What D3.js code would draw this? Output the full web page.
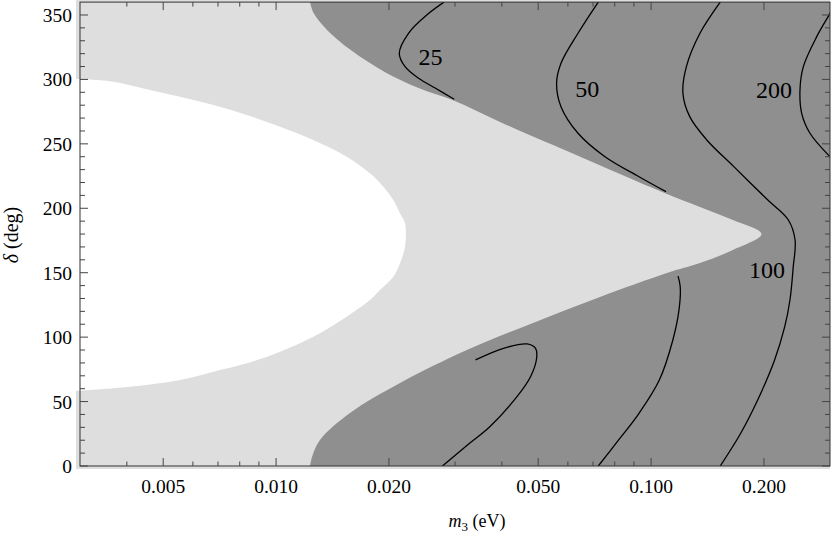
<!DOCTYPE html>
<html><head><meta charset="utf-8">
<script src="https://cdn.jsdelivr.net/npm/d3@7"></script>
<style>
html,body{margin:0;padding:0;background:#fff;}
</style></head><body>
<svg id="chart" width="832" height="537" font-family="'Liberation Serif', 'Times New Roman', Times, serif"></svg>
<script>
// ---- axes ----
const xDomain = [0.003, 0.3];
const yDomain = [0, 360];
const xMajorTicks = [0.005, 0.01, 0.02, 0.05, 0.1, 0.2];
const xMajorLabels = ["0.005", "0.010", "0.020", "0.050", "0.100", "0.200"];
const xMinorTicks = [0.004, 0.006, 0.007, 0.008, 0.009, 0.03, 0.04, 0.06, 0.07, 0.08, 0.09];
const yMajorTicks = [0, 50, 100, 150, 200, 250, 300, 350];
const yMajorLabels = ["0", "50", "100", "150", "200", "250", "300", "350"];
const yMinorTicks = [10,20,30,40,60,70,80,90,110,120,130,140,160,170,180,190,210,220,230,240,260,270,280,290,310,320,330,340];

// ---- white (allowed) region boundary: delta ascending ----
const whiteEdgeDelta = [58.4, 60.3, 62.9, 66.7, 73.2, 79.7, 88.7, 100.3, 115.9, 128.8, 136.6, 146.9, 157.3, 170.2, 188.3, 196.1, 206.4, 216.7, 227.1, 240.0, 253.0, 263.3, 272.4, 280.2, 286.6, 292.3, 298.2, 300.3];
const whiteEdgeM     = [0.003, 0.00368, 0.00452, 0.00554, 0.00681, 0.00835, 0.01025, 0.01257, 0.01543, 0.0178, 0.01893, 0.02054, 0.0214, 0.02207, 0.02207, 0.0214, 0.02054, 0.01932, 0.0178, 0.01543, 0.01257, 0.01025, 0.00835, 0.00681, 0.00554, 0.00452, 0.00368, 0.003];

// ---- dark region boundary: delta ascending ----
const darkEdgeDelta = [0, 7.0, 20.2, 41.1, 64.4, 90.0, 111.0, 131.2, 149.8, 157.5, 167.6, 180, 190.9, 201.0, 211.1, 226.6, 244.4, 267.0, 284.0, 293.3, 305.8, 322.8, 338.4, 351.5, 360];
const darkEdgeM     = [0.01232, 0.01247, 0.01309, 0.01574, 0.0214, 0.03228, 0.04842, 0.07308, 0.1102, 0.135, 0.1653, 0.197, 0.1653, 0.135, 0.1102, 0.08262, 0.05967, 0.03954, 0.02954, 0.02399, 0.01948, 0.01582, 0.01367, 0.01259, 0.01232];

// ---- contour lines ----
const c25UpperM     = [0.02804, 0.02554, 0.02255, 0.02131, 0.02208, 0.02399, 0.02663, 0.02986];
const c25UpperDelta = [360, 351.3, 335.8, 320.3, 309.9, 300.9, 293.1, 284.6];
const c25LowerM     = [0.03403, 0.04039, 0.04671, 0.0492, 0.04952, 0.0477, 0.04389, 0.03714, 0.0328, 0.02777];
const c25LowerDelta = [82.3, 91.3, 94.7, 91.3, 83.6, 69.3, 53.8, 30.5, 17.6, 0];
const c50UpperM     = [0.0723, 0.06385, 0.05751, 0.05598, 0.05751, 0.06385, 0.07536, 0.09286, 0.1096];
const c50UpperDelta = [360, 335.8, 312.5, 297.0, 278.8, 258.2, 240.0, 224.5, 212.9];
const c50LowerM     = [0.118, 0.1196, 0.1187, 0.1143, 0.1052, 0.09286, 0.08194, 0.0723];
const c50LowerDelta = [147.4, 139.1, 121.1, 97.8, 66.7, 40.9, 20.2, 0];
const c100M     = [0.1529, 0.135, 0.1242, 0.1216, 0.1268, 0.1408, 0.1662, 0.2048, 0.2323, 0.2421, 0.2394, 0.2346, 0.2272, 0.2135, 0.1924, 0.1734, 0.1529];
const c100Delta = [360, 335.8, 309.9, 289.2, 271.1, 253.0, 232.3, 206.4, 190.9, 175.4, 154.7, 128.8, 108.1, 82.3, 51.2, 25.4, 0];
const c200M     = [0.311, 0.3, 0.2765, 0.2547, 0.2495, 0.2521, 0.2653, 0.3, 0.319];
const c200Delta = [360, 351.3, 333.2, 309.9, 291.8, 273.7, 258.2, 240.0, 232.8];

const contourLabelText  = ["25", "50", "200", "100"];
const contourLabelM     = [0.0258, 0.0676, 0.2127, 0.2038];
const contourLabelDelta = [311.2, 286.6, 285.4, 145.7];

// ---- drawing ----
const FONT = "'Liberation Serif', 'Times New Roman', Times, serif";
const svg = d3.select("#chart");
const x = d3.scaleLog().domain(xDomain).range([80, 830]);
const y = d3.scaleLinear().domain(yDomain).range([466, 2.1]);
const [x0, x1] = x.range();
const [yb, yt] = y.range();

const defs = svg.append("defs");
defs.append("clipPath").attr("id", "fillClip").append("rect")
  .attr("x", x0 - 4).attr("y", 0).attr("width", x1 - x0 + 4).attr("height", yb + 3);
defs.append("clipPath").attr("id", "plotClip").append("rect")
  .attr("x", x0).attr("y", yt).attr("width", x1 - x0).attr("height", yb - yt);

const fills = svg.append("g").attr("clip-path", "url(#fillClip)");
fills.append("rect").attr("x", x0 - 4).attr("y", 0).attr("width", x1 - x0 + 4).attr("height", yb + 3)
  .attr("fill", "#dedede");

const zip = (ms, ds) => ms.map((m, i) => ({ m, d: ds[i] }));

const whiteArea = d3.area().curve(d3.curveCatmullRom)
  .y(p => y(p.d)).x0(x0 - 4).x1(p => x(p.m));
fills.append("path").attr("d", whiteArea(zip(whiteEdgeM, whiteEdgeDelta))).attr("fill", "#ffffff");

const darkArea = d3.area().curve(d3.curveCatmullRom)
  .y(p => y(p.d)).x0(p => x(p.m)).x1(x1);
fills.append("path").attr("d", darkArea(zip(darkEdgeM, darkEdgeDelta))).attr("fill", "#8f8f8f");

const line = d3.line().curve(d3.curveCatmullRom).x(p => x(p.m)).y(p => y(p.d));
const contours = [
  zip(c25UpperM, c25UpperDelta), zip(c25LowerM, c25LowerDelta),
  zip(c50UpperM, c50UpperDelta), zip(c50LowerM, c50LowerDelta),
  zip(c100M, c100Delta), zip(c200M, c200Delta)
];
svg.append("g").attr("clip-path", "url(#plotClip)")
  .selectAll("path").data(contours).join("path")
  .attr("d", line).attr("fill", "none").attr("stroke", "#000").attr("stroke-width", 1.3);

svg.append("g").selectAll("text").data(contourLabelText).join("text")
  .attr("x", (t, i) => x(contourLabelM[i])).attr("y", (t, i) => y(contourLabelDelta[i]))
  .attr("text-anchor", "middle").attr("font-family", FONT).attr("font-size", 24).text(t => t);

// frame
const axes = svg.append("g");
axes.append("rect").attr("x", x0).attr("y", yt).attr("width", x1 - x0).attr("height", yb - yt)
  .attr("fill", "none").attr("stroke", "#333").attr("stroke-width", 1);

const tickColor = "#444";
function xTicks(vals, len) {
  axes.append("g").selectAll("line").data(vals).join("line")
    .attr("x1", v => x(v)).attr("x2", v => x(v)).attr("y1", yb).attr("y2", yb - len)
    .attr("stroke", tickColor);
  axes.append("g").selectAll("line").data(vals).join("line")
    .attr("x1", v => x(v)).attr("x2", v => x(v)).attr("y1", yt).attr("y2", yt + len)
    .attr("stroke", tickColor);
}
function yTicks(vals, len) {
  axes.append("g").selectAll("line").data(vals).join("line")
    .attr("x1", x0).attr("x2", x0 + len).attr("y1", v => y(v)).attr("y2", v => y(v))
    .attr("stroke", tickColor);
  axes.append("g").selectAll("line").data(vals).join("line")
    .attr("x1", x1).attr("x2", x1 - len).attr("y1", v => y(v)).attr("y2", v => y(v))
    .attr("stroke", tickColor);
}
xTicks(xMajorTicks, 8); xTicks(xMinorTicks, 4.5);
yTicks(yMajorTicks, 8); yTicks(yMinorTicks, 5);

axes.append("g").selectAll("text").data(xMajorTicks).join("text")
  .attr("x", v => x(v)).attr("y", yb + 27).attr("text-anchor", "middle")
  .attr("font-family", FONT).attr("font-size", 19.5).text((v, i) => xMajorLabels[i]);
axes.append("g").selectAll("text").data(yMajorTicks).join("text")
  .attr("x", x0 - 8).attr("y", v => y(v) + 7).attr("text-anchor", "end")
  .attr("font-family", FONT).attr("font-size", 19.5).text((v, i) => yMajorLabels[i]);

// axis titles
const xt = svg.append("text").attr("x", 477).attr("y", 527).attr("text-anchor", "middle")
  .attr("font-family", FONT).attr("font-size", 18);
xt.append("tspan").attr("font-style", "italic").text("m");
xt.append("tspan").attr("dy", 4).attr("font-size", 13).text("3");
xt.append("tspan").attr("dy", -4).text(" (eV)");

const yt2 = svg.append("text").attr("transform", "translate(18,235) rotate(-90)").attr("text-anchor", "middle")
  .attr("font-family", FONT).attr("font-size", 20);
yt2.append("tspan").attr("font-style", "italic").text("δ");
yt2.append("tspan").text(" (deg)");
</script>
</body></html>
